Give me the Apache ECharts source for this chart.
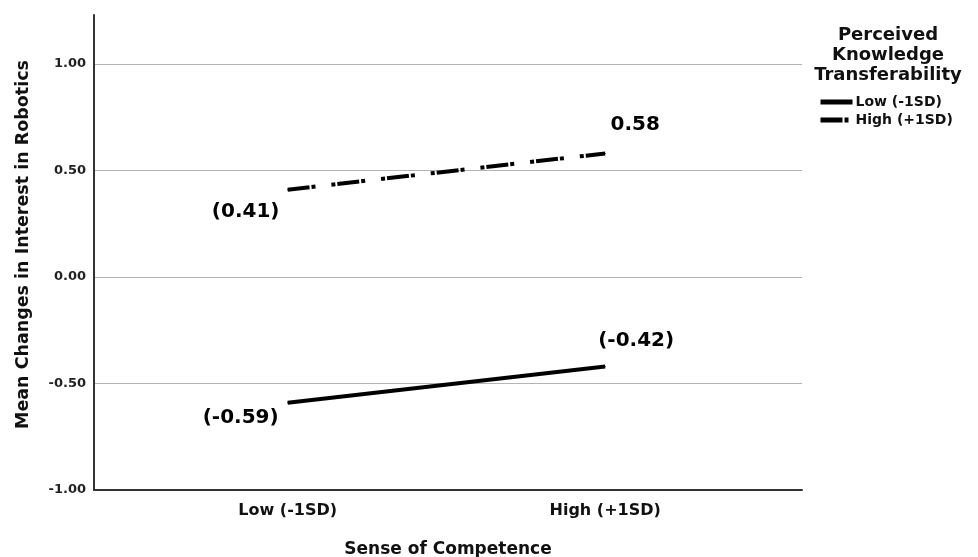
<!DOCTYPE html>
<html>
<head>
<meta charset="utf-8">
<script src="https://cdn.jsdelivr.net/npm/echarts@6/dist/echarts.min.js"></script>
<style>
  html, body { margin: 0; padding: 0; background: #fff; }
  #chart { width: 978px; height: 557px; }
</style>
</head>
<body>
<div id="chart"></div>
<script>
// Simple-slopes plot: interest change by sense of competence at two levels of transferability
const categories = ['Low (-1SD)', 'High (+1SD)'];
const seriesNames = ['Low (-1SD)', 'High (+1SD)'];
const lowTransfer = [-0.59, -0.42];
const highTransfer = [0.41, 0.58];
// whether each point's value label is printed in parentheses
const lowParen = [true, true];
const highParen = [true, false];
const yTicks = [-1, -0.5, 0, 0.5, 1];

const FONT = '"DejaVu Sans", "Liberation Sans", Arial, sans-serif';
const DASH_DOT = [22, 2, 4, 16, 4, 2];

function fmt(v, paren) {
  const s = v.toFixed(2);
  return paren ? '(' + s + ')' : s;
}

function buildData(values, parens, offsets) {
  return values.map((v, i) => ({
    value: [i, v],
    label: {
      show: true,
      position: 'inside',
      offset: offsets[i],
      formatter: () => fmt(v, parens[i])
    }
  }));
}

const labelStyle = {
  color: '#000',
  fontFamily: FONT,
  fontWeight: 'bold',
  fontSize: 20
};

const chart = echarts.init(document.getElementById('chart'), null, { renderer: 'canvas' });

chart.setOption({
  animation: false,
  backgroundColor: '#fff',
  title: {
    text: 'Perceived\nKnowledge\nTransferability',
    left: 888,
    top: 25,
    padding: 0,
    textAlign: 'center',
    textStyle: {
      fontFamily: FONT,
      fontWeight: 'bold',
      fontSize: 18,
      lineHeight: 20,
      color: '#111'
    }
  },
  legend: {
    orient: 'vertical',
    left: 818,
    top: 95,
    itemWidth: 32,
    itemHeight: 14,
    itemGap: 4,
    padding: 0,
    itemStyle: { opacity: 0 },
    lineStyle: { width: 5, color: '#000' },
    textStyle: {
      fontFamily: FONT,
      fontWeight: 'bold',
      fontSize: 14,
      color: '#111',
      padding: [0, 0, 0, -2]
    },
    data: seriesNames
  },
  grid: {
    left: 94,
    right: 176,
    top: 15,
    bottom: 67,
    containLabel: false,
    outerBoundsMode: 'none'
  },
  xAxis: {
    type: 'value',
    min: -0.61,
    max: 1.62,
    name: 'Sense of Competence',
    nameLocation: 'middle',
    nameGap: 51,
    nameTextStyle: {
      fontFamily: FONT,
      fontWeight: 'bold',
      fontSize: 17,
      color: '#111'
    },
    axisLine: { show: true, onZero: false, lineStyle: { color: '#333', width: 2 } },
    axisTick: { show: false },
    splitLine: { show: false },
    axisLabel: {
      customValues: categories.map((c, i) => i),
      formatter: (v) => categories[Math.round(v)],
      margin: 13,
      fontFamily: FONT,
      fontWeight: 'bold',
      fontSize: 16,
      color: '#111'
    }
  },
  yAxis: {
    type: 'value',
    min: -1,
    max: 1.23,
    interval: 0.5,
    name: 'Mean Changes in Interest in Robotics',
    nameLocation: 'middle',
    nameGap: 62,
    nameTextStyle: {
      fontFamily: FONT,
      fontWeight: 'bold',
      fontSize: 17.5,
      color: '#111',
      padding: [0, 0, 0, 16]
    },
    axisLine: { show: true, onZero: false, lineStyle: { color: '#333', width: 2 } },
    axisTick: { show: false },
    splitLine: { show: true, showMaxLine: false, lineStyle: { color: '#b4b4b4', width: 1 } },
    axisLabel: {
      customValues: yTicks,
      formatter: (v) => v.toFixed(2),
      margin: 8,
      fontFamily: FONT,
      fontWeight: 'bold',
      fontSize: 13,
      color: '#222'
    }
  },
  series: [
    {
      name: seriesNames[0],
      type: 'line',
      symbol: 'circle',
      symbolSize: 1,
      lineStyle: { color: '#000', width: 4, type: 'solid' },
      itemStyle: { color: '#000' },
      label: labelStyle,
      data: buildData(lowTransfer, lowParen, [[-47, 15], [31, -26]])
    },
    {
      name: seriesNames[1],
      type: 'line',
      symbol: 'circle',
      symbolSize: 1,
      lineStyle: { color: '#000', width: 4, type: DASH_DOT },
      itemStyle: { color: '#000' },
      label: labelStyle,
      data: buildData(highTransfer, highParen, [[-42, 22], [30, -29]])
    }
  ]
});
</script>
</body>
</html>
